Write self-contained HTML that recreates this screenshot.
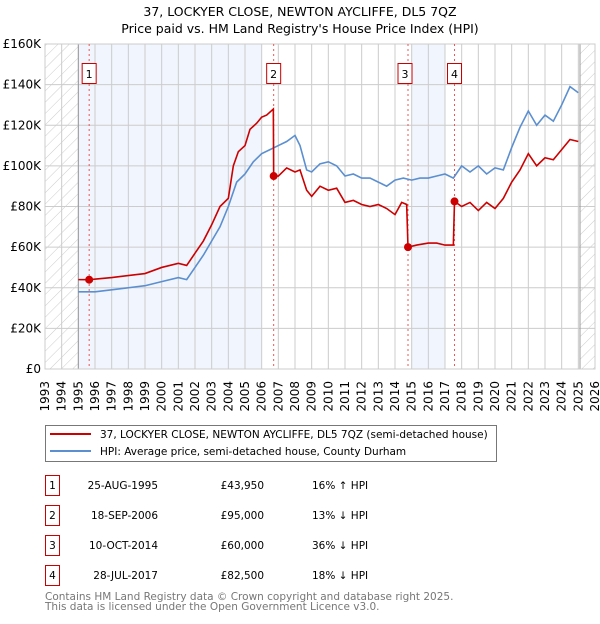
<!DOCTYPE html>
<html><head><meta charset="utf-8"><style>
body{margin:0;background:#fff;font-family:"DejaVu Sans","Liberation Sans",sans-serif;}
svg text{font-family:"DejaVu Sans","Liberation Sans",sans-serif;}
</style></head><body>
<svg id="chart" width="600" height="620" xmlns="http://www.w3.org/2000/svg">
<defs><pattern id="hatch" width="8" height="8" patternUnits="userSpaceOnUse" patternTransform="rotate(45)"><line x1="0" y1="0" x2="0" y2="8" stroke="#ccc" stroke-width="1"/></pattern></defs>
<text x="300" y="16" text-anchor="middle" font-size="12.5">37, LOCKYER CLOSE, NEWTON AYCLIFFE, DL5 7QZ</text>
<text x="300" y="33" text-anchor="middle" font-size="12.5">Price paid vs. HM Land Registry's House Price Index (HPI)</text>
<g id="plot"></g>
<g>
<rect x="45.5" y="425.5" width="451" height="36" fill="#fff" stroke="#777"/>
<line x1="50" y1="434" x2="91" y2="434" stroke="#cc0000" stroke-width="2"/>
<text x="100" y="438" font-size="10.5">37, LOCKYER CLOSE, NEWTON AYCLIFFE, DL5 7QZ (semi-detached house)</text>
<line x1="50" y1="451" x2="91" y2="451" stroke="#5b8fd0" stroke-width="2"/>
<text x="100" y="455" font-size="10.5">HPI: Average price, semi-detached house, County Durham</text>
</g>
<g id="table" font-size="10.5"></g>
<text x="45" y="600" font-size="10.5" fill="#777">Contains HM Land Registry data © Crown copyright and database right 2025.</text>
<text x="45" y="610" font-size="10.5" fill="#777">This data is licensed under the Open Government Licence v3.0.</text>
</svg>
<script>
const hpiT=[1995,1996,1997,1998,1999,2000,2001,2001.5,2002,2002.5,2003,2003.5,2004,2004.5,2005,2005.5,2006,2006.5,2007,2007.5,2008,2008.3,2008.7,2009,2009.5,2010,2010.5,2011,2011.5,2012,2012.5,2013,2013.5,2014,2014.5,2015,2015.5,2016,2016.5,2017,2017.5,2018,2018.5,2019,2019.5,2020,2020.5,2021,2021.5,2022,2022.5,2023,2023.5,2024,2024.5,2025];
const hpiV=[38,38,39,40,41,43,45,44,50,56,63,70,80,92,96,102,106,108,110,112,115,110,98,97,101,102,100,95,96,94,94,92,90,93,94,93,94,94,95,96,94,100,97,100,96,99,98,109,119,127,120,125,122,130,139,136];
const propT=[1995,1995.65,1997,1999,2000,2001,2001.5,2002,2002.5,2003,2003.5,2004,2004.3,2004.6,2005,2005.3,2005.7,2006,2006.3,2006.7,2006.72,2007,2007.5,2008,2008.3,2008.7,2009,2009.5,2010,2010.5,2011,2011.5,2012,2012.5,2013,2013.5,2014,2014.4,2014.7,2014.78,2015.3,2016,2016.5,2017,2017.5,2017.57,2018,2018.5,2019,2019.5,2020,2020.5,2021,2021.5,2022,2022.5,2023,2023.5,2024,2024.5,2025];
const propV=[44,43.95,45,47,50,52,51,57,63,71,80,84,100,107,110,118,121,124,125,128,95,95,99,97,98,88,85,90,88,89,82,83,81,80,81,79,76,82,81,60,61,62,62,61,61,82.5,80,82,78,82,79,84,92,98,106,100,104,103,108,113,112];
const saleLabels=["1","2","3","4"];
const saleT=[1995.65,2006.72,2014.78,2017.57];
const saleV=[43.95,95,60,82.5];
const saleDates=["25-AUG-1995","18-SEP-2006","10-OCT-2014","28-JUL-2017"];
const salePrices=["£43,950","£95,000","£60,000","£82,500"];
const saleHpi=["16% \u2191 HPI","13% \u2193 HPI","36% \u2193 HPI","18% \u2193 HPI"];
const yTicks=[0,20,40,60,80,100,120,140,160];
const yTickLabels=["£0","£20K","£40K","£60K","£80K","£100K","£120K","£140K","£160K"];
const xTicks=[1993,1994,1995,1996,1997,1998,1999,2000,2001,2002,2003,2004,2005,2006,2007,2008,2009,2010,2011,2012,2013,2014,2015,2016,2017,2018,2019,2020,2021,2022,2023,2024,2025,2026];
const NS="http://www.w3.org/2000/svg";
const L=45,R=595,T=44,B=369;
const x=t=>L+(t-1993)/33*(R-L);
const y=v=>B-v/160*(B-T);
const plot=document.getElementById('plot');
function mk(tag,attrs,parent){const e=document.createElementNS(NS,tag);for(const k in attrs)e.setAttribute(k,attrs[k]);(parent||plot).appendChild(e);return e;}
const bg=mk('rect',{x:L,y:T,width:R-L,height:B-T,fill:'#fff'});


[[1995,2006],[2015,2017]].forEach(b=>{const r=mk('rect',{x:x(b[0]),y:T,width:x(b[1])-x(b[0]),height:B-T,fill:'#eef3fc',opacity:0.8});

});
const h1=mk('rect',{x:L,y:T,width:x(1995)-L,height:B-T,fill:'url(#hatch)'});


const h2=mk('rect',{x:x(2025.1),y:T,width:R-x(2025.1),height:B-T,fill:'url(#hatch)'});


xTicks.forEach(t=>{const g=mk('line',{x1:x(t),x2:x(t),y1:T,y2:B,stroke:'#ccc'});


const lb=mk('text',{x:x(t),y:B+12,'font-size':12,'text-anchor':'end',transform:`rotate(-90 ${x(t)+4} ${B+12})`});
lb.textContent=t;
lb.setAttribute('x',x(t)+4);lb.setAttribute('y',B+12);

});
yTicks.forEach((v,i)=>{const g=mk('line',{x1:L,x2:R,y1:y(v),y2:y(v),stroke:'#ccc'});


const lb=mk('text',{x:L-4,y:y(v)+4,'font-size':12,'text-anchor':'end'});
lb.textContent=yTickLabels[i];

});
const vl1=mk('line',{x1:x(1995),x2:x(1995),y1:T,y2:B,stroke:'#999'});


const vl2=mk('line',{x1:x(2025.1),x2:x(2025.1),y1:T,y2:B,stroke:'#999'});


const fr=mk('rect',{x:L,y:T,width:R-L,height:B-T,fill:'none',stroke:'#ccc'});


saleT.forEach((t,i)=>{const d=mk('line',{x1:x(t),x2:x(t),y1:T,y2:B,stroke:'#e55','stroke-dasharray':'2,3'});

});
const hp=mk('polyline',{points:hpiT.map((t,i)=>x(t)+','+y(hpiV[i])).join(' '),fill:'none',stroke:'#5b8fd0','stroke-width':1.6});


const pp=mk('polyline',{points:propT.map((t,i)=>x(t)+','+y(propV[i])).join(' '),fill:'none',stroke:'#cc0000','stroke-width':1.6});


saleT.forEach((t,i)=>{const c=mk('circle',{cx:x(t),cy:y(saleV[i]),r:4,fill:'#cc0000'});


const bx=mk('rect',{x:x(t)-7-(i==2?3:0),y:63.5,width:14,height:20,fill:'#fff',stroke:'#c00'});


const tx=mk('text',{x:x(t)-(i==2?3:0),y:78,'font-size':11,'text-anchor':'middle'});
tx.textContent=saleLabels[i];

});
const tb=document.getElementById('table');
saleLabels.forEach((s,i)=>{const yy=475+i*30;
const b=mk('rect',{x:45.5,y:yy+0.5,width:14,height:20,fill:'#fff',stroke:'#c00'},tb);


const n=mk('text',{x:52.5,y:yy+14,'text-anchor':'middle'},tb);n.textContent=s;


const d=mk('text',{x:158,y:yy+14,'text-anchor':'end'},tb);d.textContent=saleDates[i];


const p=mk('text',{x:264,y:yy+14,'text-anchor':'end'},tb);p.textContent=salePrices[i];


const h=mk('text',{x:312,y:yy+14},tb);h.textContent=saleHpi[i];

});
</script>
</body></html>
